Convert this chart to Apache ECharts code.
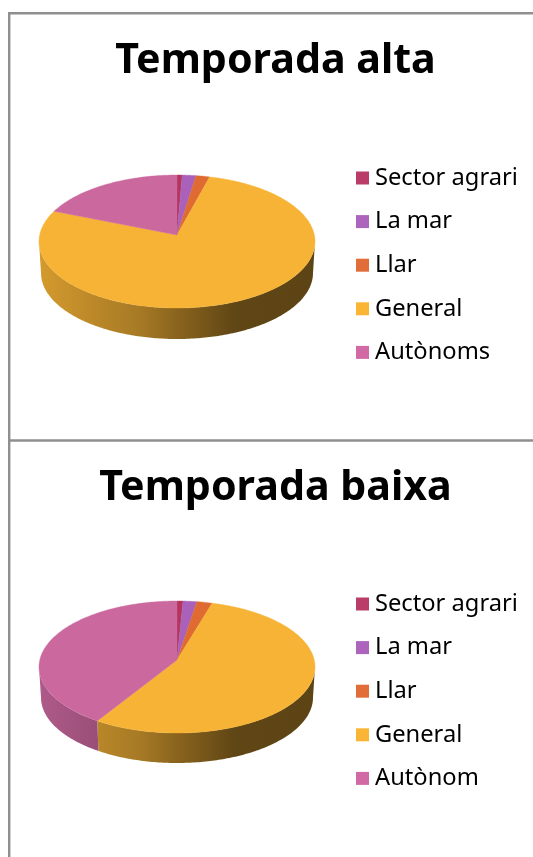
<!DOCTYPE html>
<html><head><meta charset="utf-8">
<style>html,body{margin:0;padding:0;background:#fff}#c{width:533px;height:857px}</style>
<script src="https://cdn.jsdelivr.net/npm/echarts@6/dist/echarts.min.js"></script>
</head><body><div id="c"></div>
<script>
const titles = ['Temporada alta', 'Temporada baixa'];
const categoriesAlta = ['Sector agrari', 'La mar', 'Llar', 'General', 'Autònoms'];
const categoriesBaixa = ['Sector agrari', 'La mar', 'Llar', 'General', 'Autònom'];
const valuesAlta = [0.6, 1.6, 1.6, 78.7, 17.5];
const valuesBaixa = [0.7, 1.6, 1.8, 55.7, 40.2];
const sliceColors = ['#B6355F', '#A961B9', '#DF6B33', '#F6B336', '#CB699F'];
const legendColors = ['#B93D68', '#AC64BD', '#E16D38', '#FBB535', '#D069A4'];

const FONT = '"Noto Sans", sans-serif';
const panels = [
  {names: categoriesAlta, values: valuesAlta, cx: 177, cy: 241.5, rx: 138, ry: 66.5, apexY: 235, cy2: 273, rx2: 136, ry2: 66, legendTop: 166, titleTop: 36.5},
  {names: categoriesBaixa, values: valuesBaixa, cx: 177, cy: 667, rx: 138, ry: 66, apexY: 660, cy2: 697.5, rx2: 136, ry2: 65.5, legendTop: 592, titleTop: 463.5}
];

function shade(hex, f) {
  const n = parseInt(hex.slice(1), 16);
  return 'rgb(' + [(n >> 16) & 255, (n >> 8) & 255, n & 255].map(v => Math.round(v * f)).join(',') + ')';
}
function wallGradient(hex, p) {
  return {type: 'linear', global: true, x: p.cx - p.rx, y: 0, x2: p.cx + p.rx, y2: 0, colorStops: [
    {offset: 0, color: shade(hex, 0.86)},
    {offset: 0.36, color: shade(hex, 0.68)},
    {offset: 0.5, color: shade(hex, 0.56)},
    {offset: 0.71, color: shade(hex, 0.39)},
    {offset: 1, color: shade(hex, 0.38)}
  ]};
}
function arc(p, from, to, cy, rx, ry) {
  const pts = [], n = Math.max(2, Math.ceil((to - from) * 60));
  for (let i = 0; i <= n; i++) {
    const t = from + (to - from) * i / n;
    pts.push([p.cx + rx * Math.sin(t), cy - ry * Math.cos(t)]);
  }
  return pts;
}
function sliceSeries(p, idx) {
  const total = p.values.reduce((a, b) => a + b, 0);
  const before = p.values.slice(0, idx).reduce((a, b) => a + b, 0);
  const a0 = before / total * 2 * Math.PI;
  const a1 = (before + p.values[idx]) / total * 2 * Math.PI;
  const color = sliceColors[idx];
  return {
    type: 'custom', name: p.names[idx], coordinateSystem: 'none', silent: true,
    itemStyle: {color: legendColors[idx]},
    data: [[p.values[idx]]],
    renderItem() {
      const children = [];
      const w0 = Math.max(a0, Math.PI / 2), w1 = Math.min(a1, Math.PI * 1.5);
      if (w1 > w0) {
        const top = arc(p, w0, w1, p.cy, p.rx, p.ry);
        const bottom = arc(p, w0, w1, p.cy2, p.rx2, p.ry2).reverse();
        children.push({type: 'polygon', shape: {points: top.concat(bottom)},
          style: {fill: wallGradient(color, p), stroke: null}});
      }
      children.push({type: 'polygon', z2: 5,
        shape: {points: [[p.cx, p.apexY]].concat(arc(p, a0, a1, p.cy, p.rx, p.ry))},
        style: {fill: color, stroke: color, lineWidth: 0.4}});
      return {type: 'group', children};
    }
  };
}
const frame = {stroke: '#8f8f8f', lineWidth: 2.4};
const chart = echarts.init(document.getElementById('c'), null, {renderer: 'canvas'});
chart.setOption({
  animation: false,
  backgroundColor: '#fff',
  title: panels.map((p, i) => ({
    text: titles[i], left: 275.5, top: p.titleTop, textAlign: 'center', padding: 0,
    textStyle: {fontFamily: FONT, fontWeight: 'bold', fontSize: 41.2, color: '#000', lineHeight: 50}
  })),
  legend: panels.map(p => ({
    data: p.names, orient: 'vertical', left: 356, top: p.legendTop, icon: 'rect', padding: 0,
    itemWidth: 13, itemHeight: 13, itemGap: 19.6, selectedMode: false,
    textStyle: {fontFamily: FONT, fontSize: 23.7, color: '#000', padding: [0,0,0,1], lineHeight: 24}
  })),
  series: panels.flatMap(p => p.values.map((v, i) => sliceSeries(p, i))),
  graphic: [
    {type: 'line', shape: {x1: 9.2, y1: 12, x2: 9.2, y2: 857}, style: frame, silent: true},
    {type: 'line', shape: {x1: 8, y1: 13.3, x2: 533, y2: 13.3}, style: frame, silent: true},
    {type: 'line', shape: {x1: 9, y1: 440.5, x2: 533, y2: 440.5}, style: frame, silent: true}
  ]
});
</script></body></html>
